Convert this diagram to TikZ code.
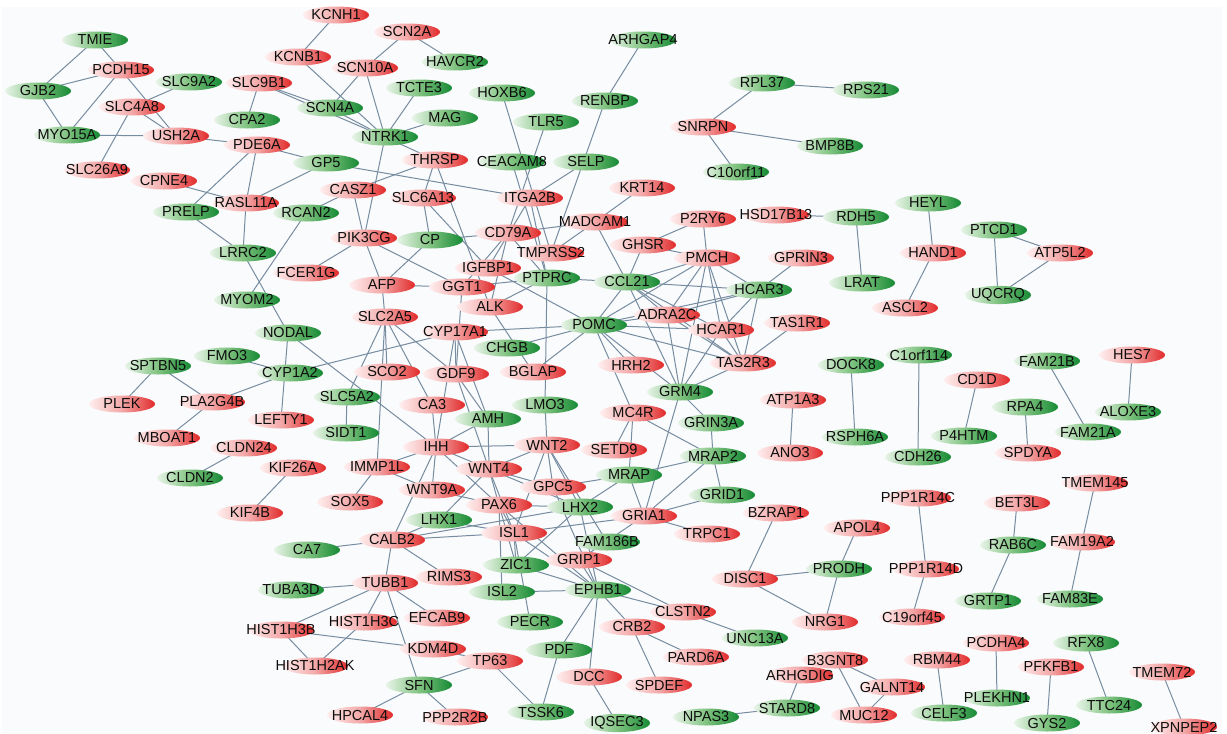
\documentclass[tikz,border=0pt]{standalone}
\usepackage{fontspec}
\setmainfont{Liberation Sans}
\usetikzlibrary{shapes.geometric}
\definecolor{rL}{RGB}{255,238,238}
\definecolor{rM}{RGB}{243,168,168}
\definecolor{rR}{RGB}{226,42,42}
\definecolor{gL}{RGB}{232,244,232}
\definecolor{gM}{RGB}{128,195,128}
\definecolor{gR}{RGB}{22,138,52}
\definecolor{edgec}{RGB}{118,140,160}
\definecolor{bgc}{RGB}{250,251,253}
\pgfdeclarelayer{bg}
\pgfdeclarelayer{edges}
\pgfsetlayers{bg,edges,main}
\newcommand\genenode[4]{\node[#1] (#2) at (#3,#4) {\makebox[0pt]{#2}};}
\tikzset{
 basenode/.style={ellipse, minimum width=66pt, minimum height=17pt, inner sep=0pt,
   font=\fontsize{14.5}{15}\selectfont, text=black!95},
 rnode/.style={basenode, left color=rL, right color=rR, middle color=rM},
 gnode/.style={basenode, left color=gL, right color=gR, middle color=gM},
 edge/.style={draw=edgec, line width=1pt},
}
\begin{document}
\begin{tikzpicture}[x=1pt,y=-1pt]
\useasboundingbox (0,0) rectangle (1227,734);
\begin{pgfonlayer}{bg}
\fill[white] (0,0) rectangle (1227,734);
\fill[bgc] (2,7) rectangle (1222,734);
\end{pgfonlayer}
% nodes
\genenode{gnode}{TMIE}{95}{40}
\genenode{rnode}{PCDH15}{121}{70}
\genenode{gnode}{GJB2}{38}{91}
\genenode{gnode}{SLC9A2}{189}{82}
\genenode{rnode}{SLC4A8}{132}{107}
\genenode{gnode}{MYO15A}{67}{135}
\genenode{rnode}{USH2A}{176}{136}
\genenode{rnode}{SLC26A9}{97}{170}
\genenode{rnode}{CPNE4}{164}{181}
\genenode{rnode}{SLC9B1}{259}{83}
\genenode{gnode}{CPA2}{247}{120}
\genenode{rnode}{PDE6A}{257}{145}
\genenode{rnode}{RASL11A}{246}{203}
\genenode{gnode}{PRELP}{186}{212}
\genenode{rnode}{KCNH1}{336}{15}
\genenode{rnode}{KCNB1}{298}{57}
\genenode{rnode}{SCN2A}{407}{32}
\genenode{rnode}{SCN10A}{365}{68}
\genenode{gnode}{HAVCR2}{455}{62}
\genenode{gnode}{TCTE3}{419}{88}
\genenode{gnode}{SCN4A}{330}{108}
\genenode{gnode}{HOXB6}{502}{93}
\genenode{gnode}{MAG}{445}{118}
\genenode{gnode}{NTRK1}{385}{137}
\genenode{gnode}{TLR5}{546}{122}
\genenode{gnode}{RENBP}{605}{101}
\genenode{gnode}{ARHGAP4}{643}{40}
\genenode{gnode}{GP5}{326}{163}
\genenode{rnode}{THRSP}{435}{160}
\genenode{gnode}{CEACAM8}{512}{162}
\genenode{gnode}{SELP}{586}{162}
\genenode{rnode}{CASZ1}{353}{190}
\genenode{rnode}{SLC6A13}{423}{198}
\genenode{rnode}{ITGA2B}{530}{198}
\genenode{gnode}{RCAN2}{306}{213}
\genenode{rnode}{PIK3CG}{364}{238}
\genenode{gnode}{CP}{430}{240}
\genenode{rnode}{CD79A}{508}{233}
\genenode{rnode}{MADCAM1}{595}{222}
\genenode{rnode}{KRT14}{642}{188}
\genenode{rnode}{P2RY6}{703}{219}
\genenode{rnode}{HSD17B13}{776}{215}
\genenode{gnode}{RDH5}{856}{217}
\genenode{gnode}{HEYL}{928}{203}
\genenode{gnode}{PTCD1}{994}{230}
\genenode{rnode}{HAND1}{933}{253}
\genenode{rnode}{ATP5L2}{1060}{253}
\genenode{gnode}{UQCRQ}{998}{295}
\genenode{rnode}{ASCL2}{905}{308}
\genenode{gnode}{LRAT}{862}{283}
\genenode{rnode}{GPRIN3}{801}{258}
\genenode{gnode}{HCAR3}{759}{290}
\genenode{rnode}{TAS1R1}{797}{323}
\genenode{rnode}{TAS2R3}{743}{363}
\genenode{rnode}{HCAR1}{721}{330}
\genenode{rnode}{ADRA2C}{667}{315}
\genenode{rnode}{PMCH}{707}{258}
\genenode{rnode}{GHSR}{643}{245}
\genenode{rnode}{TMPRSS2}{551}{253}
\genenode{rnode}{IGFBP1}{488}{268}
\genenode{gnode}{PTPRC}{547}{278}
\genenode{gnode}{CCL21}{627}{282}
\genenode{rnode}{GGT1}{462}{287}
\genenode{rnode}{AFP}{382}{285}
\genenode{rnode}{ALK}{490}{307}
\genenode{gnode}{POMC}{594}{325}
\genenode{rnode}{FCER1G}{306}{273}
\genenode{gnode}{LRRC2}{243}{253}
\genenode{gnode}{MYOM2}{247}{300}
\genenode{rnode}{SLC2A5}{385}{317}
\genenode{rnode}{CYP17A1}{455}{332}
\genenode{gnode}{NODAL}{288}{333}
\genenode{gnode}{CHGB}{507}{348}
\genenode{gnode}{FMO3}{227}{356}
\genenode{gnode}{CYP1A2}{290}{373}
\genenode{rnode}{SCO2}{387}{372}
\genenode{rnode}{GDF9}{456}{374}
\genenode{rnode}{BGLAP}{533}{372}
\genenode{rnode}{HRH2}{631}{365}
\genenode{gnode}{GRM4}{680}{392}
\genenode{rnode}{ATP1A3}{793}{400}
\genenode{gnode}{DOCK8}{851}{365}
\genenode{gnode}{C1orf114}{919}{355}
\genenode{gnode}{RSPH6A}{855}{437}
\genenode{gnode}{CDH26}{918}{457}
\genenode{rnode}{CD1D}{977}{380}
\genenode{gnode}{P4HTM}{964}{436}
\genenode{gnode}{RPA4}{1025}{407}
\genenode{rnode}{SPDYA}{1028}{453}
\genenode{gnode}{FAM21B}{1047}{361}
\genenode{gnode}{FAM21A}{1088}{432}
\genenode{rnode}{HES7}{1132}{355}
\genenode{gnode}{ALOXE3}{1128}{412}
\genenode{rnode}{ANO3}{790}{453}
\genenode{gnode}{SPTBN5}{158}{366}
\genenode{rnode}{PLEK}{122}{404}
\genenode{rnode}{PLA2G4B}{212}{402}
\genenode{rnode}{MBOAT1}{167}{438}
\genenode{rnode}{CLDN24}{244}{448}
\genenode{gnode}{CLDN2}{190}{478}
\genenode{rnode}{LEFTY1}{281}{420}
\genenode{gnode}{SLC5A2}{347}{397}
\genenode{gnode}{SIDT1}{346}{433}
\genenode{rnode}{CA3}{432}{405}
\genenode{rnode}{IHH}{436}{447}
\genenode{rnode}{IMMP1L}{377}{467}
\genenode{rnode}{WNT9A}{432}{490}
\genenode{rnode}{SOX5}{350}{502}
\genenode{rnode}{KIF26A}{293}{468}
\genenode{rnode}{KIF4B}{250}{513}
\genenode{gnode}{LHX1}{439}{520}
\genenode{rnode}{CALB2}{392}{540}
\genenode{gnode}{CA7}{307}{550}
\genenode{rnode}{RIMS3}{449}{577}
\genenode{rnode}{TUBB1}{385}{583}
\genenode{gnode}{TUBA3D}{291}{590}
\genenode{rnode}{HIST1H3B}{281}{630}
\genenode{rnode}{HIST1H3C}{364}{622}
\genenode{rnode}{EFCAB9}{437}{618}
\genenode{rnode}{KDM4D}{433}{649}
\genenode{rnode}{HIST1H2AK}{315}{666}
\genenode{rnode}{TP63}{490}{661}
\genenode{gnode}{SFN}{419}{685}
\genenode{rnode}{HPCAL4}{360}{715}
\genenode{rnode}{PPP2R2B}{455}{717}
\genenode{gnode}{ZIC1}{516}{565}
\genenode{gnode}{ISL2}{502}{592}
\genenode{gnode}{PECR}{530}{622}
\genenode{gnode}{EPHB1}{598}{590}
\genenode{rnode}{GRIP1}{579}{560}
\genenode{rnode}{CLSTN2}{683}{612}
\genenode{rnode}{CRB2}{632}{627}
\genenode{gnode}{UNC13A}{755}{638}
\genenode{rnode}{PARD6A}{696}{657}
\genenode{gnode}{PDF}{559}{650}
\genenode{rnode}{DCC}{589}{677}
\genenode{rnode}{SPDEF}{659}{685}
\genenode{gnode}{TSSK6}{541}{712}
\genenode{gnode}{IQSEC3}{617}{723}
\genenode{gnode}{NPAS3}{706}{717}
\genenode{gnode}{STARD8}{787}{708}
\genenode{rnode}{ARHGDIG}{800}{675}
\genenode{rnode}{DISC1}{745}{579}
\genenode{gnode}{PRODH}{839}{569}
\genenode{rnode}{NRG1}{825}{622}
\genenode{rnode}{APOL4}{857}{528}
\genenode{rnode}{BZRAP1}{776}{513}
\genenode{rnode}{TRPC1}{707}{534}
\genenode{gnode}{GRID1}{722}{495}
\genenode{rnode}{PPP1R14C}{918}{498}
\genenode{rnode}{PPP1R14D}{926}{569}
\genenode{rnode}{C19orf45}{912}{617}
\genenode{rnode}{BET3L}{1017}{503}
\genenode{gnode}{RAB6C}{1013}{545}
\genenode{gnode}{GRTP1}{988}{601}
\genenode{rnode}{TMEM145}{1095}{483}
\genenode{rnode}{FAM19A2}{1082}{542}
\genenode{gnode}{FAM83E}{1070}{599}
\genenode{rnode}{PCDHA4}{996}{643}
\genenode{gnode}{PLEKHN1}{997}{698}
\genenode{rnode}{RBM44}{937}{660}
\genenode{gnode}{CELF3}{944}{713}
\genenode{rnode}{B3GNT8}{835}{660}
\genenode{rnode}{GALNT14}{892}{687}
\genenode{rnode}{MUC12}{864}{715}
\genenode{gnode}{RFX8}{1086}{643}
\genenode{rnode}{PFKFB1}{1051}{667}
\genenode{gnode}{TTC24}{1109}{705}
\genenode{gnode}{GYS2}{1047}{723}
\genenode{rnode}{TMEM72}{1162}{672}
\genenode{rnode}{XPNPEP2}{1184}{727}
\genenode{rnode}{MC4R}{633}{413}
\genenode{gnode}{LMO3}{545}{405}
\genenode{gnode}{AMH}{488}{419}
\genenode{rnode}{WNT2}{547}{445}
\genenode{rnode}{SETD9}{614}{450}
\genenode{gnode}{GRIN3A}{711}{423}
\genenode{gnode}{MRAP2}{713}{456}
\genenode{gnode}{MRAP}{629}{475}
\genenode{rnode}{WNT4}{489}{469}
\genenode{rnode}{GPC5}{553}{487}
\genenode{rnode}{PAX6}{499}{505}
\genenode{gnode}{LHX2}{580}{507}
\genenode{rnode}{GRIA1}{644}{516}
\genenode{rnode}{ISL1}{514}{533}
\genenode{gnode}{FAM186B}{607}{542}
\genenode{gnode}{RPL37}{762}{83}
\genenode{gnode}{RPS21}{866}{90}
\genenode{rnode}{SNRPN}{703}{127}
\genenode{gnode}{BMP8B}{830}{146}
\genenode{gnode}{C10orf11}{736}{172}
% edges
\begin{pgfonlayer}{edges}
\foreach \a/\b in {TMIE/GJB2, TMIE/PCDH15, PCDH15/GJB2, PCDH15/MYO15A, PCDH15/USH2A, GJB2/MYO15A,
 SLC9A2/SLC4A8, SLC4A8/USH2A, SLC4A8/SLC26A9, MYO15A/USH2A, USH2A/PDE6A, SLC9B1/CPA2, SLC9B1/SCN4A,
 SLC9B1/NTRK1, PDE6A/GP5, PDE6A/PRELP, PDE6A/RASL11A, CPNE4/RASL11A, RASL11A/GP5, PRELP/LRRC2,
 RASL11A/LRRC2, RCAN2/MYOM2, RCAN2/CASZ1, LRRC2/NODAL,
 KCNH1/KCNB1, KCNB1/NTRK1, SCN2A/SCN10A, SCN2A/HAVCR2, SCN10A/SCN4A, SCN10A/NTRK1, SCN4A/NTRK1,
 TCTE3/NTRK1, MAG/NTRK1, NTRK1/THRSP, NTRK1/PIK3CG, HOXB6/TMPRSS2, TLR5/CD79A, CEACAM8/PTPRC,
 SELP/ITGA2B, ARHGAP4/RENBP, RENBP/TMPRSS2, GP5/ITGA2B, THRSP/CASZ1, THRSP/SLC6A13, THRSP/ALK,
 CASZ1/PIK3CG, SLC6A13/CP, SLC6A13/IGFBP1, RPL37/RPS21, RPL37/SNRPN, SNRPN/BMP8B, SNRPN/C10orf11,
 PIK3CG/FCER1G, PIK3CG/AFP, PIK3CG/GGT1, CP/AFP, CP/CD79A, AFP/GGT1, AFP/SLC2A5, CD79A/MADCAM1,
 KRT14/MADCAM1, MADCAM1/CCL21, MADCAM1/TMPRSS2, ITGA2B/PTPRC, ITGA2B/IGFBP1, CD79A/ALK, CD79A/GGT1,
 CD79A/PTPRC, IGFBP1/POMC, GGT1/PTPRC, ALK/PTPRC, ALK/BGLAP, PTPRC/CCL21, PTPRC/LMO3,
 P2RY6/GHSR, P2RY6/PMCH, GHSR/CCL21, GHSR/PMCH, PMCH/CCL21, PMCH/POMC, PMCH/HCAR3, PMCH/HCAR1,
 PMCH/TAS2R3, PMCH/ADRA2C, PMCH/GRM4, CCL21/HCAR3, CCL21/HCAR1, CCL21/TAS2R3, CCL21/ADRA2C,
 CCL21/POMC, CCL21/GRM4, POMC/ADRA2C, POMC/HCAR1, POMC/TAS2R3, POMC/HCAR3, POMC/HRH2, POMC/GRM4,
 POMC/CHGB, POMC/CYP17A1, POMC/BGLAP, POMC/MC4R, HCAR3/HCAR1, HCAR3/TAS2R3, HCAR3/ADRA2C,
 HCAR1/TAS2R3, ADRA2C/TAS2R3, ADRA2C/GRM4, HCAR1/GRM4, TAS2R3/GRM4, GPRIN3/HCAR3, TAS1R1/TAS2R3,
 HSD17B13/RDH5, RDH5/LRAT, HEYL/HAND1, HAND1/ASCL2, PTCD1/ATP5L2, PTCD1/UQCRQ, ATP5L2/UQCRQ,
 NODAL/LEFTY1, NODAL/IHH, FMO3/CYP1A2, CYP1A2/CYP17A1, CYP1A2/PLA2G4B, SPTBN5/PLA2G4B, SPTBN5/PLEK,
 PLA2G4B/MBOAT1, CLDN24/CLDN2, KIF26A/KIF4B, IMMP1L/SOX5, IMMP1L/IHH, IMMP1L/SLC2A5, IMMP1L/WNT9A,
 SLC5A2/SIDT1, SLC2A5/SLC5A2, SLC2A5/SCO2, SLC2A5/GDF9, SLC2A5/CA3, CYP17A1/GDF9, CYP17A1/AMH,
 CYP17A1/IHH, GGT1/GDF9, GDF9/AMH, GDF9/WNT4, CA3/IHH, IHH/AMH, IHH/WNT2, IHH/WNT4, IHH/WNT9A,
 IHH/PAX6, AMH/WNT4, LMO3/WNT2, WNT2/WNT4, WNT2/GPC5, WNT2/LHX2, WNT2/ISL1, WNT2/FAM186B,
 WNT4/GPC5, WNT4/PAX6, WNT4/ISL1, WNT4/LHX1, WNT4/LHX2, WNT9A/PAX6, GPC5/MRAP, LHX2/MRAP,
 PAX6/LHX2, PAX6/ISL1, ISL1/GRIA1, LHX1/ISL1, CALB2/ISL1, CALB2/LHX2, CALB2/LHX1, CALB2/CA7,
 CALB2/TUBB1, CALB2/RIMS3, CALB2/IHH, PAX6/ZIC1, ISL1/ZIC1, PAX6/ISL2, ISL1/EPHB1, LHX2/ZIC1,
 PECR/ISL1, EPHB1/LHX2, EPHB1/GPC5, EPHB1/PAX6,
 MC4R/MRAP, MC4R/MRAP2, SETD9/MC4R, GRM4/GRIN3A, GRM4/GRIA1, GRIN3A/MRAP2, MRAP/MRAP2, MRAP2/GRID1,
 MRAP2/GRIA1, GRIA1/GRID1, GRIA1/TRPC1, MRAP/GRIA1, GRIA1/GRIP1, ATP1A3/ANO3, DOCK8/RSPH6A,
 C1orf114/CDH26, CD1D/P4HTM, RPA4/SPDYA, FAM21B/FAM21A, HES7/ALOXE3,
 TUBB1/TUBA3D, TUBB1/HIST1H3B, TUBB1/HIST1H3C, TUBB1/EFCAB9, TUBB1/SFN, HIST1H3B/HIST1H2AK,
 HIST1H3C/HIST1H2AK, HIST1H3B/KDM4D, KDM4D/TP63, TP63/SFN, TP63/TSSK6, SFN/HPCAL4, SFN/PPP2R2B,
 ISL2/EPHB1, ZIC1/EPHB1, EPHB1/GRIP1, EPHB1/CLSTN2, EPHB1/CRB2, EPHB1/PDF, EPHB1/DCC, GRIP1/CLSTN2,
 CLSTN2/UNC13A, CRB2/PARD6A, CRB2/SPDEF, PDF/TSSK6, DCC/IQSEC3, NPAS3/STARD8, STARD8/ARHGDIG,
 DISC1/PRODH, DISC1/NRG1, DISC1/BZRAP1, PRODH/NRG1, PRODH/APOL4, PPP1R14C/PPP1R14D,
 PPP1R14D/C19orf45, BET3L/RAB6C, RAB6C/GRTP1, TMEM145/FAM19A2, FAM19A2/FAM83E, PCDHA4/PLEKHN1,
 RBM44/CELF3, B3GNT8/GALNT14, B3GNT8/MUC12, GALNT14/MUC12, RFX8/TTC24, PFKFB1/GYS2, TMEM72/XPNPEP2}
 \draw[edge] (\a.center) -- (\b.center);
\end{pgfonlayer}
\end{tikzpicture}
\end{document}
